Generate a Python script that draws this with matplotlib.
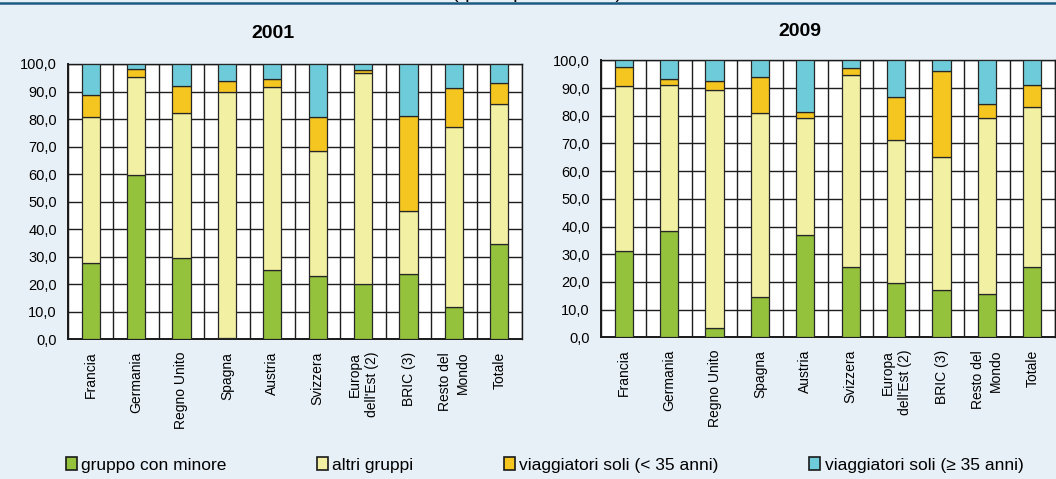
import matplotlib
matplotlib.use("Agg")
import matplotlib.pyplot as plt
import numpy as np
from matplotlib.lines import Line2D
from matplotlib.patches import Patch

plt.rcParams['font.family'] = ['Liberation Sans', 'DejaVu Sans']

categories = ["Francia", "Germania", "Regno Unito", "Spagna", "Austria", "Svizzera",
              "Europa\ndell'Est (2)", "BRIC (3)", "Resto del\nMondo", "Totale"]
series_names = ["gruppo con minore", "altri gruppi",
                "viaggiatori soli (< 35 anni)", "viaggiatori soli (\u2265 35 anni)"]

# 2001 shares (%)
g2001 = [27.6, 59.6, 29.5, 0.6, 25.1, 23.0, 20.0, 23.8, 11.6, 34.6]
a2001 = [53.3, 35.8, 52.7, 89.2, 66.5, 45.5, 76.6, 22.7, 65.5, 50.8]
y2001 = [7.7, 2.9, 9.7, 4.1, 2.8, 12.2, 1.1, 34.7, 14.1, 7.6]
o2001 = [11.4, 1.7, 8.1, 6.1, 5.6, 19.3, 2.3, 18.8, 8.8, 7.0]

# 2009 shares (%)
g2009 = [31.0, 38.3, 3.2, 14.4, 36.9, 25.3, 19.5, 17.2, 15.6, 25.4]
a2009 = [59.6, 52.8, 86.1, 66.5, 42.2, 69.4, 51.9, 48.0, 63.5, 57.9]
y2009 = [7.1, 2.0, 3.1, 13.1, 2.4, 2.7, 15.5, 30.8, 5.3, 7.7]
o2009 = [2.3, 6.9, 7.6, 6.0, 18.5, 2.6, 13.1, 4.0, 15.6, 9.0]

yticks = [0, 10, 20, 30, 40, 50, 60, 70, 80, 90, 100]
colors = ["#95C23D", "#F2F0A2", "#F5C61F", "#6ECCDA"]
bg = "#E8F0F7"

fig = plt.figure(figsize=(10.56, 4.79), dpi=100, facecolor=bg)

def panel(rect, data):
    ax = fig.add_axes(rect)
    ax.set_facecolor("white")
    x = np.arange(len(categories))
    bottom = np.zeros(len(categories))
    for vals, c in zip(data, colors):
        ax.bar(x, vals, 0.4, bottom=bottom, color=c, edgecolor="#262626",
               linewidth=0.9, zorder=3)
        bottom += np.array(vals)
    ax.set_xlim(-0.5, len(categories) - 0.5)
    ax.set_ylim(0, 100)
    ax.set_yticks(yticks)
    ax.set_yticklabels([f"{v:.1f}".replace(".", ",") for v in yticks], fontsize=10.5)
    ax.set_xticks(x)
    ax.set_xticklabels(categories, rotation=90, fontsize=10, linespacing=1.3,
                       multialignment='right')
    ax.set_xticks(np.arange(-0.5, len(categories), 1), minor=True)
    ax.tick_params(axis='both', which='both', length=0)
    ax.tick_params(axis='y', pad=8)
    ax.tick_params(axis='x', pad=9)
    ax.grid(axis='y', which='major', color="#1e1e1e", linewidth=1.0, zorder=1)
    ax.grid(axis='x', which='minor', color="#1e1e1e", linewidth=1.0, zorder=1)
    ax.grid(axis='x', which='major', visible=False)
    ax.set_axisbelow(True)
    for s in ax.spines.values():
        s.set_color("#1a1a1a")
        s.set_linewidth(1.0)
    ax.spines['left'].set_linewidth(1.4)
    ax.spines['bottom'].set_linewidth(1.4)
    return ax

ax1 = panel([68/1056, 1-339.3/479, 454/1056, 275.3/479], [g2001, a2001, y2001, o2001])
ax2 = panel([601/1056, 1-337.3/479, 454/1056, 277/479], [g2009, a2009, y2009, o2009])

fig.text(273/1056, 1-33/479, "2001", ha='center', va='center', fontsize=14, fontweight='bold')
fig.text(800/1056, 1-32/479, "2009", ha='center', va='center', fontsize=14, fontweight='bold')

# top rule and cut-off heading
fig.text(622/1056, 1+2/479, "(quota percentuale)", ha='right', va='baseline', fontsize=14)
fig.add_artist(Line2D([0, 1], [1-3/479, 1-3/479], transform=fig.transFigure,
                      color="#1B5A82", linewidth=1.8))

handles = [Patch(facecolor=c, edgecolor="#1a1a1a", linewidth=1.2) for c in colors]
fig.legend(handles, series_names, loc='center', bbox_to_anchor=(544.5/1056, 1-465/479),
           ncol=4, frameon=False, fontsize=12.5, handlelength=0.65, handleheight=0.7,
           handletextpad=0.25, columnspacing=5.2, borderpad=0, borderaxespad=0)

fig.savefig("out.png", dpi=100, facecolor=bg)
